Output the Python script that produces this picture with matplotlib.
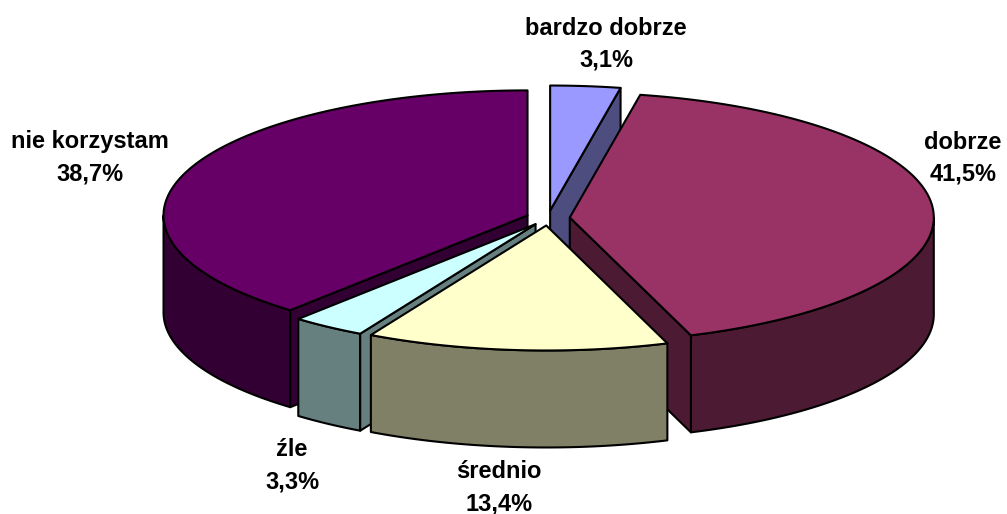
import numpy as np
import matplotlib
matplotlib.use("Agg")
import matplotlib.pyplot as plt
from matplotlib.patches import Polygon
from matplotlib import colors as mcolors

# data
categories = ["bardzo dobrze", "dobrze", "średnio", "źle", "nie korzystam"]
shares = [3.1, 41.5, 13.4, 3.3, 38.7]
top_colors = ["#9999FF", "#993366", "#FFFFCC", "#CCFFFF", "#660066"]

# layout (pixels)
W, H = 1007, 514
CX, CY = 548, 218
RX, RY = 364, 125
DEPTH = 97
EXPLODE = 0.06
# label anchor: x centre, baseline of first line
label_pos = [(606, 35), (963, 149), (499, 478), (292, 456), (90, 148)]
LINE_GAP = 32

plt.rcParams["font.family"] = ["Liberation Sans", "DejaVu Sans"]

fig = plt.figure(figsize=(W / 100, H / 100), dpi=100)
ax = fig.add_axes([0, 0, 1, 1])
ax.set_xlim(0, W)
ax.set_ylim(H, 0)
ax.axis("off")

LW = 1.5


def pt(a, cx, cy, dz=0.0):
    r = np.radians(a)
    return cx + RX * np.sin(r), cy - RY * np.cos(r) + dz


def arc(a0, a1, cx, cy, dz=0.0):
    n = max(int(abs(a1 - a0)) + 2, 3)
    aa = np.linspace(a0, a1, n)
    x, y = pt(aa, cx, cy, dz)
    return list(zip(x, y))


def shade(c):
    r, g, b = mcolors.to_rgb(c)
    return (r * 0.5, g * 0.5, b * 0.5)


def poly(points, color):
    ax.add_patch(Polygon(points, closed=True, facecolor=color, edgecolor="black",
                         linewidth=LW, joinstyle="round"))


total = sum(shares)
bounds = np.concatenate([[0], np.cumsum(shares) / total * 360])
slices = []
for i in range(len(shares)):
    a0, a1 = bounds[i], bounds[i + 1]
    mid = (a0 + a1) / 2
    cx = CX + EXPLODE * RX * np.sin(np.radians(mid))
    cy = CY - EXPLODE * RY * np.cos(np.radians(mid))
    slices.append((i, a0, a1, mid, cx, cy))

# back to front
slices.sort(key=lambda s: -np.cos(np.radians(s[3])))

for i, a0, a1, mid, cx, cy in slices:
    side = shade(top_colors[i])
    # outer curved wall, front half only
    lo, hi = max(a0, 90), min(a1, 270)
    if hi > lo:
        top_arc = arc(lo, hi, cx, cy)
        bot_arc = arc(hi, lo, cx, cy, DEPTH)
        poly(top_arc + bot_arc, side)
    # radial walls facing the viewer
    for a, visible in ((a0, -np.sin(np.radians(a0)) > 1e-6),
                       (a1, np.sin(np.radians(a1)) > 1e-6)):
        if visible:
            rx, ry = pt(a, cx, cy)
            poly([(cx, cy), (rx, ry), (rx, ry + DEPTH), (cx, cy + DEPTH)], side)
    # top face
    poly([(cx, cy)] + arc(a0, a1, cx, cy), top_colors[i])

for i, name in enumerate(categories):
    x, y = label_pos[i]
    pct = f"{shares[i]:.1f}%".replace(".", ",")
    ax.text(x, y, name, ha="center", va="baseline", fontsize=17, fontweight="bold")
    ax.text(x, y + LINE_GAP, pct, ha="center", va="baseline", fontsize=17, fontweight="bold")

fig.savefig("out.png", dpi=100)
